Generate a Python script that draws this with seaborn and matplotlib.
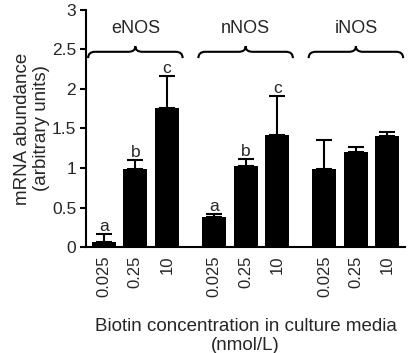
''' Biotin and NOS mRNA abundance bar chart '''
import numpy as np
import pandas as pd
import seaborn as sns
import matplotlib
matplotlib.use("Agg")
import matplotlib.pyplot as plt
from matplotlib.path import Path
from matplotlib.patches import PathPatch
from matplotlib.ticker import FuncFormatter

### Data ###
groups = ["eNOS", "nNOS", "iNOS"]
concentrations = ["0.025", "0.25", "10"]
enos_mean = [0.06, 0.99, 1.76]
enos_err = [0.11, 0.11, 0.41]
nnos_mean = [0.38, 1.02, 1.42]
nnos_err = [0.04, 0.10, 0.49]
inos_mean = [0.99, 1.20, 1.40]
inos_err = [0.36, 0.07, 0.05]
enos_letters = ["a", "b", "c"]
nnos_letters = ["a", "b", "c"]
inos_letters = ["", "", ""]

### Build table ###
group_gap = 3.5  # slot offset between groups
rows = []
for g, (name, means, errs, lets) in enumerate(zip(
        groups,
        [enos_mean, nnos_mean, inos_mean],
        [enos_err, nnos_err, inos_err],
        [enos_letters, nnos_letters, inos_letters])):
    for i, conc in enumerate(concentrations):
        rows.append({"gene": name, "conc": conc, "pos": g * group_gap + i,
                     "mean": means[i], "err": errs[i], "letter": lets[i]})
df = pd.DataFrame(rows)

### Plot ###
sns.set_style("ticks")
plt.rcParams["font.family"] = ["Liberation Sans", "DejaVu Sans"]

fig = plt.figure(figsize=(4.15, 3.53), dpi=100)
ax = fig.add_axes([0.207, 0.300, 0.769, 0.672])

sns.barplot(data=df, x="pos", y="mean", native_scale=True, color="black",
            width=0.76, errorbar=None, saturation=1, linewidth=0, ax=ax)

# upper-only error bars
ax.errorbar(df["pos"], df["mean"], yerr=[np.zeros(len(df)), df["err"]],
            fmt="none", ecolor="black", elinewidth=1.5, capsize=5.5, capthick=1.5)

# significance letters
for _, r in df.iterrows():
    if r["letter"]:
        ax.annotate(r["letter"], (r["pos"], r["mean"] + r["err"]),
                    xytext=(0, 0), textcoords="offset points",
                    ha="center", va="bottom", fontsize=12.5)

# braces with gene names
y_arm, drop, rise, rx, half = 2.47, 0.08, 0.07, 0.22, 1.5
for g, name in enumerate(groups):
    xc = g * group_gap + 1
    verts = [(xc - half, y_arm - drop), (xc - half, y_arm), (xc - half + rx, y_arm),
             (xc - rx, y_arm), (xc, y_arm), (xc, y_arm + rise),
             (xc, y_arm), (xc + rx, y_arm),
             (xc + half - rx, y_arm), (xc + half, y_arm), (xc + half, y_arm - drop)]
    codes = [Path.MOVETO, Path.CURVE3, Path.CURVE3,
             Path.LINETO, Path.CURVE3, Path.CURVE3,
             Path.CURVE3, Path.CURVE3,
             Path.LINETO, Path.CURVE3, Path.CURVE3]
    ax.add_patch(PathPatch(Path(verts, codes), fill=False, lw=1.5, color="black"))
    ax.text(xc, 2.76, name, ha="center", va="center", fontsize=13)

ax.set_xlim(-0.57, 9.56)
ax.set_ylim(0, 3)
ax.set_xticks(df["pos"])
ax.set_xticklabels(df["conc"], rotation=90, fontsize=12)
ax.set_yticks(np.arange(0, 3.01, 0.5))
ax.yaxis.set_major_formatter(FuncFormatter(lambda v, p: f"{v:g}"))
ax.tick_params(axis="y", labelsize=12.5, length=4, width=1.5, color="black", pad=3)
ax.tick_params(axis="x", length=0, pad=6)
ax.set_xlabel("Biotin concentration in culture media\n(nmol/L)", fontsize=13.5, labelpad=15)
ax.set_ylabel("mRNA abundance\n(arbitrary units)", fontsize=13.5, labelpad=1)
for s in ["left", "bottom"]:
    ax.spines[s].set_linewidth(1.5)
    ax.spines[s].set_color("black")
sns.despine(ax=ax)

plt.savefig("out.png", dpi=100)
